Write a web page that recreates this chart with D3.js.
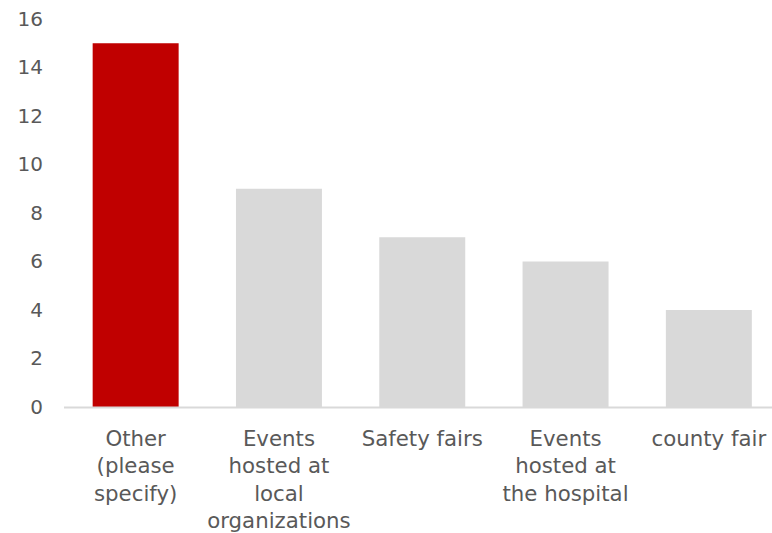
<!DOCTYPE html>
<html>
<head>
<meta charset="utf-8">
<script src="https://cdn.jsdelivr.net/npm/d3@7"></script>
<style>
  html, body { margin: 0; padding: 0; background: #fff; }
  svg text { font-family: "DejaVu Sans", sans-serif; fill: #595959; }
</style>
</head>
<body>
<svg id="chart" width="772" height="533"></svg>
<script>
// Event types and counts
const categories = [
  "Other (please specify)",
  "Events hosted at local organizations",
  "Safety fairs",
  "Events hosted at the hospital",
  "county fair"
];
const labelLines = [
  ["Other", "(please", "specify)"],
  ["Events", "hosted at", "local", "organizations"],
  ["Safety fairs"],
  ["Events", "hosted at", "the hospital"],
  ["county fair"]
];
const values = [15, 9, 7, 6, 4];
const barColors = ["#C00000", "#D9D9D9", "#D9D9D9", "#D9D9D9", "#D9D9D9"];
const yTicks = [0, 2, 4, 6, 8, 10, 12, 14, 16];

const svg = d3.select("#chart");

const x = d3.scaleBand()
  .domain(categories)
  .range([64, 780.5])
  .paddingInner(0.4)
  .paddingOuter(0.2);

const y = d3.scaleLinear()
  .domain([0, 16])
  .range([407, 19]);

// Bars
svg.append("g")
  .selectAll("rect")
  .data(values)
  .join("rect")
  .attr("x", (d, i) => x(categories[i]))
  .attr("width", x.bandwidth())
  .attr("y", d => y(d))
  .attr("height", d => y(0) - y(d))
  .attr("fill", (d, i) => barColors[i]);

// Baseline
svg.append("line")
  .attr("x1", 64).attr("x2", 772)
  .attr("y1", y(0) + 0.5).attr("y2", y(0) + 0.5)
  .attr("stroke", "#D9D9D9")
  .attr("stroke-width", 2);

// Y axis tick labels
const yAxis = d3.axisLeft(y).tickValues(yTicks).tickSize(0).tickPadding(0);
const gy = svg.append("g")
  .attr("transform", "translate(43,0)")
  .call(yAxis);
gy.select(".domain").remove();
gy.selectAll("text")
  .attr("font-size", 20)
  .attr("font-family", "DejaVu Sans, sans-serif")
  .attr("fill", "#595959");

// Category labels, wrapped
const gx = svg.append("g");
labelLines.forEach((lines, i) => {
  const cx = x(categories[i]) + x.bandwidth() / 2;
  const t = gx.append("text")
    .attr("text-anchor", "middle")
    .attr("font-size", 21.3)
    .attr("x", cx)
    .attr("y", 446);
  lines.forEach((ln, j) => {
    t.append("tspan").attr("x", cx).attr("dy", j === 0 ? 0 : 27.3).text(ln);
  });
});
</script>
</body>
</html>
